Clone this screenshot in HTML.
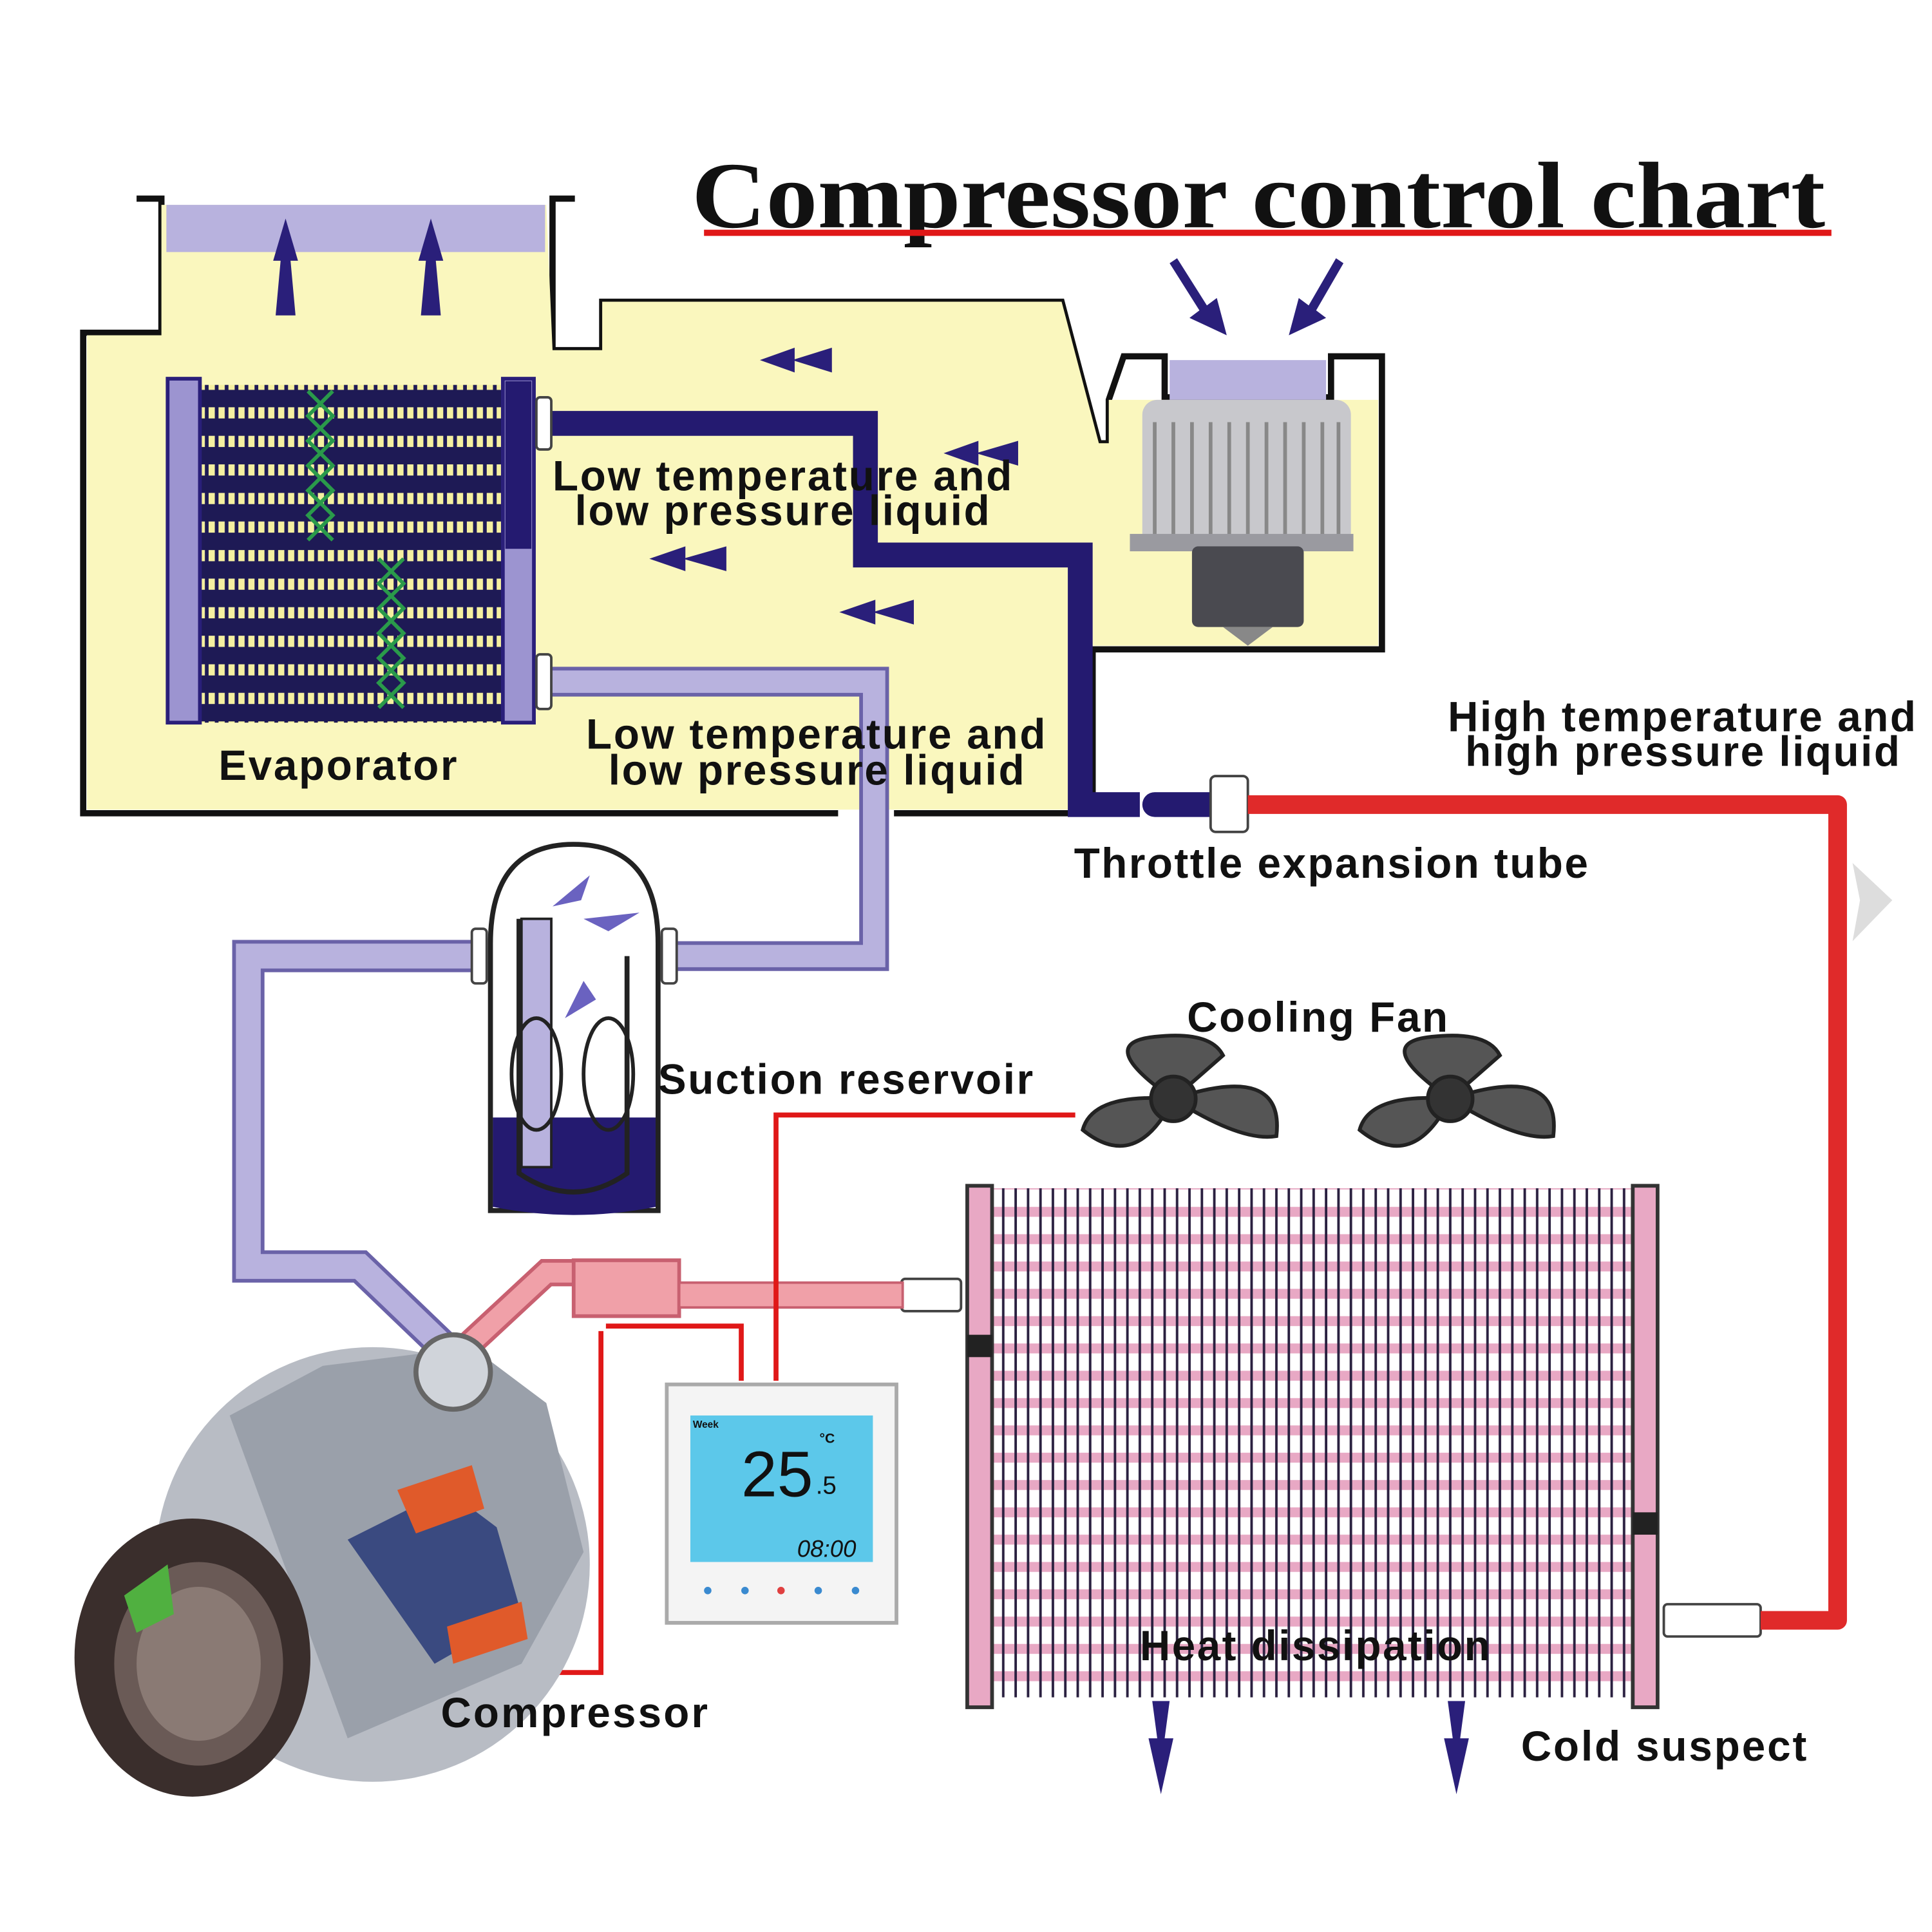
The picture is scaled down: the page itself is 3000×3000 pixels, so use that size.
<!DOCTYPE html>
<html><head><meta charset="utf-8"><style>
html,body{margin:0;padding:0;background:#fff;width:3000px;height:3000px;overflow:hidden}
svg{display:block}
text{font-family:"Liberation Sans",sans-serif;font-weight:bold;fill:#111}
</style></head><body>
<svg width="3000" height="3000" viewBox="0 0 1556 1556" xmlns="http://www.w3.org/2000/svg">
<defs>
<pattern id="fins" x="0" y="0" width="8" height="23" patternUnits="userSpaceOnUse">
<rect width="8" height="23" fill="#1e1a55"/><rect x="0" y="6" width="8" height="9" fill="#f5f0a0"/><rect x="5" y="0" width="3" height="23" fill="#1e1a55"/>
</pattern>
<pattern id="cond" x="0" y="0" width="10" height="22" patternUnits="userSpaceOnUse">
<rect width="10" height="22" fill="#fff"/><rect x="0" y="4" width="10" height="8" fill="#e8a8c4"/><rect x="7" y="0" width="2" height="22" fill="#2a2040"/>
</pattern>
</defs>
<rect width="1556" height="1556" fill="#fff"/>
<text x="557" y="183" textLength="913" lengthAdjust="spacingAndGlyphs" style="font-family:'Liberation Serif',serif" font-size="76">Compressor control chart</text>
<rect x="567" y="185" width="908" height="5" fill="#e01818"/>
<path d="M110,160 L130,160 L130,268 L67,268 L67,655 L675,655 M720,655 L862,655 L880,655 L880,523 L1113,523 L1113,287 L1072,287 L1072,320 L938,320 L938,287 L905,287 L893,322 L893,357 L885,357 L855,243 L485,243 L485,282 L445,282 L445,160 L463,160" fill="none" stroke="#111" stroke-width="5"/>
<path d="M130,165 L440,165 L445,282 L485,282 L485,243 L855,243 L885,357 L893,357 L893,322 L938,322 L1070,322 L1110,322 L1110,520 L878,520 L878,652 L70,652 L70,270 L130,270 Z" fill="#faf7be"/>
<rect x="134" y="165" width="305" height="38" fill="#b8b2de"/>
<rect x="942" y="290" width="126" height="32" fill="#b8b2de"/>
<g fill="#2a1f7a">
<polygon points="230,176 220,210 226,210 222,254 238,254 234,210 240,210"/>
<polygon points="347,176 337,210 343,210 339,254 355,254 351,210 357,210"/>
<polygon points="612,290 640,280 640,300"/><polygon points="638,290 670,280 670,300"/>
<polygon points="760,365 788,355 788,375"/><polygon points="786,365 820,355 820,375"/>
<polygon points="523,450 552,440 552,460"/><polygon points="550,450 585,440 585,460"/>
<polygon points="676,493 705,483 705,503"/><polygon points="703,493 736,483 736,503"/>
<polygon points="988,270 980,240 972,246 948,208 942,212 966,250 958,256"/>
<polygon points="1038,270 1046,240 1054,246 1076,208 1082,212 1060,250 1068,256"/>
<polygon points="935,1445 925,1400 932,1400 928,1370 942,1370 938,1400 945,1400"/>
<polygon points="1173,1445 1163,1400 1170,1400 1166,1370 1180,1370 1176,1400 1183,1400"/>
</g>
<rect x="920" y="322" width="168" height="120" rx="12" fill="#c8c8cc"/>
<g stroke="#888" stroke-width="3"><line x1="930" y1="340" x2="930" y2="432"/><line x1="945" y1="340" x2="945" y2="432"/><line x1="960" y1="340" x2="960" y2="432"/><line x1="975" y1="340" x2="975" y2="432"/><line x1="990" y1="340" x2="990" y2="432"/><line x1="1005" y1="340" x2="1005" y2="432"/><line x1="1020" y1="340" x2="1020" y2="432"/><line x1="1035" y1="340" x2="1035" y2="432"/><line x1="1050" y1="340" x2="1050" y2="432"/><line x1="1065" y1="340" x2="1065" y2="432"/><line x1="1078" y1="340" x2="1078" y2="432"/></g>
<rect x="910" y="430" width="180" height="14" fill="#9a9aa0"/>
<rect x="960" y="440" width="90" height="65" rx="5" fill="#4a4a50"/>
<polygon points="985,505 1025,505 1005,520" fill="#888"/>
<rect x="160" y="310" width="248" height="272" fill="url(#fins)"/>
<rect x="135" y="305" width="26" height="277" fill="#9c94d0" stroke="#2a1f7a" stroke-width="3"/>
<rect x="405" y="305" width="25" height="277" fill="#9c94d0" stroke="#2a1f7a" stroke-width="3"/>
<rect x="407" y="307" width="21" height="135" fill="#241a70"/>
<g stroke="#2a9a4a" stroke-width="3" fill="none"><path d="M248,315 l20,20 l-20,20 l20,20 l-20,20 l20,20 l-20,20"/><path d="M268,315 l-20,20 l20,20 l-20,20 l20,20 l-20,20 l20,20"/><path d="M305,450 l20,20 l-20,20 l20,20 l-20,20 l20,20 l-20,20"/><path d="M325,450 l-20,20 l20,20 l-20,20 l20,20 l-20,20 l20,20"/></g>
<path d="M440,341 L697,341 L697,447 L870,447 L870,648 L918,648" fill="none" stroke="#241a70" stroke-width="20"/>
<path d="M930,648 L975,648" stroke="#241a70" stroke-width="20" stroke-linecap="round"/>
<path d="M440,549 L704,549 L704,770 L540,770" fill="none" stroke="#6a62a8" stroke-width="24"/>
<path d="M440,549 L704,549 L704,770 L540,770" fill="none" stroke="#b8b2de" stroke-width="18"/>
<path d="M385,770 L200,770 L200,1020 L290,1020 L365,1092" fill="none" stroke="#6a62a8" stroke-width="26"/>
<path d="M385,770 L200,770 L200,1020 L290,1020 L365,1092" fill="none" stroke="#b8b2de" stroke-width="20"/>
<g fill="#fff" stroke="#444" stroke-width="2">
<rect x="432" y="320" width="12" height="42" rx="3"/><rect x="432" y="527" width="12" height="44" rx="3"/>
<rect x="380" y="748" width="12" height="44" rx="3"/><rect x="533" y="748" width="12" height="44" rx="3"/>
<rect x="975" y="625" width="30" height="45" rx="4"/>
<rect x="726" y="1030" width="48" height="26" rx="3"/>
<rect x="1340" y="1292" width="78" height="26" rx="3"/>
</g>
<path d="M1005,648 L1480,648 L1480,1305 L1418,1305" fill="none" stroke="#e02a2a" stroke-width="15" stroke-linejoin="round"/>
<polygon points="1492,695 1524,725 1492,758 1498,725" fill="#ddd"/>
<path d="M395,760 Q395,680 462,680 Q530,680 530,760 L530,975 L395,975 Z" fill="#fff" stroke="#222" stroke-width="4"/>
<path d="M397,900 L528,900 L528,972 Q462,985 397,972 Z" fill="#241a70"/>
<path d="M418,740 L418,945 Q462,975 505,945 L505,770" fill="none" stroke="#222" stroke-width="4"/>
<rect x="420" y="740" width="24" height="200" fill="#b8b2de" stroke="#222" stroke-width="2"/>
<ellipse cx="432" cy="865" rx="20" ry="45" fill="none" stroke="#222" stroke-width="3"/>
<ellipse cx="490" cy="865" rx="20" ry="45" fill="none" stroke="#222" stroke-width="3"/>
<g fill="#6a62c0"><polygon points="445,730 475,705 468,725"/><polygon points="470,740 515,735 490,750"/><polygon points="455,820 470,790 480,805"/></g>
<path d="M370,1090 L440,1025 L462,1025" fill="none" stroke="#c86070" stroke-width="22"/>
<path d="M370,1090 L440,1025 L462,1025" fill="none" stroke="#f0a0a8" stroke-width="16"/>
<rect x="462" y="1015" width="85" height="45" fill="#f0a0a8" stroke="#c86070" stroke-width="3"/>
<rect x="547" y="1033" width="180" height="20" fill="#f0a0a8" stroke="#c86070" stroke-width="2"/>
<g fill="none" stroke="#e01818" stroke-width="4">
<path d="M866,898 L625,898 L625,1112"/><path d="M488,1068 L597,1068 L597,1112"/><path d="M484,1072 L484,1347 L400,1347"/>
</g>
<rect x="800" y="957" width="515" height="410" fill="url(#cond)"/>
<rect x="779" y="955" width="20" height="420" fill="#e8a8c4" stroke="#333" stroke-width="3"/>
<rect x="1315" y="955" width="20" height="420" fill="#e8a8c4" stroke="#333" stroke-width="3"/>
<rect x="779" y="1075" width="20" height="18" fill="#222"/><rect x="1315" y="1218" width="20" height="18" fill="#222"/>
<g fill="#555" stroke="#222" stroke-width="3">
<path d="M945,885 Q880,840 930,835 Q975,830 985,850 Z"/><path d="M945,885 Q1035,855 1028,915 Q1000,920 945,885 Z"/><path d="M945,885 Q915,945 872,910 Q880,880 945,885 Z"/>
<circle cx="945" cy="885" r="18" fill="#333"/>
<path d="M1168,885 Q1103,840 1153,835 Q1198,830 1208,850 Z"/><path d="M1168,885 Q1258,855 1251,915 Q1223,920 1168,885 Z"/><path d="M1168,885 Q1138,945 1095,910 Q1103,880 1168,885 Z"/>
<circle cx="1168" cy="885" r="18" fill="#333"/>
</g>
<rect x="537" y="1115" width="185" height="192" fill="#f4f4f4" stroke="#aaa" stroke-width="3"/>
<rect x="556" y="1140" width="147" height="118" fill="#5cc8ea"/>
<text x="597" y="1205" font-size="52" style="font-weight:normal;fill:#111">25</text>
<text x="657" y="1203" font-size="20" style="font-weight:normal">.5</text>
<text x="660" y="1162" font-size="11">°C</text>
<text x="558" y="1150" font-size="8">Week</text>
<text x="642" y="1254" font-size="19" style="font-weight:normal;font-style:italic">08:00</text>
<g fill="#3a8ad0"><circle cx="570" cy="1281" r="3"/><circle cx="600" cy="1281" r="3"/><circle cx="659" cy="1281" r="3"/><circle cx="689" cy="1281" r="3"/></g><circle cx="629" cy="1281" r="3" fill="#e04040"/>
<circle cx="300" cy="1260" r="175" fill="#b8bcc4"/>
<polygon points="185,1140 260,1100 380,1085 440,1130 470,1250 420,1340 280,1400" fill="#9aa0aa"/>
<circle cx="365" cy="1105" r="30" fill="#d0d4da" stroke="#666" stroke-width="4"/>
<polygon points="280,1240 360,1200 400,1230 420,1300 350,1340" fill="#3a4a80"/>
<polygon points="320,1200 380,1180 390,1215 335,1235" fill="#e05a2a"/>
<polygon points="360,1310 420,1290 425,1320 365,1340" fill="#e05a2a"/>
<ellipse cx="155" cy="1335" rx="95" ry="112" fill="#3a2e2c"/>
<ellipse cx="160" cy="1340" rx="68" ry="82" fill="#6a5a56"/>
<ellipse cx="160" cy="1340" rx="50" ry="62" fill="#8a7a74"/>
<polygon points="100,1285 135,1260 140,1300 110,1315" fill="#50b040"/>
<g font-size="34" lengthAdjust="spacingAndGlyphs">
<text x="176" y="628" textLength="192">Evaporator</text>
<text x="445" y="395" textLength="370">Low temperature and</text>
<text x="463" y="423" textLength="334">low pressure liquid</text>
<text x="472" y="603" textLength="370">Low temperature and</text>
<text x="490" y="632" textLength="335">low pressure liquid</text>
<text x="1166" y="589" textLength="377">High temperature and</text>
<text x="1180" y="617" textLength="350">high pressure liquid</text>
<text x="865" y="707" textLength="414">Throttle expansion tube</text>
<text x="956" y="831" textLength="210">Cooling Fan</text>
<text x="530" y="881" textLength="302">Suction reservoir</text>
<text x="918" y="1337" textLength="282">Heat dissipation</text>
<text x="355" y="1391" textLength="215">Compressor</text>
<text x="1225" y="1418" textLength="230">Cold suspect</text>
</g>
</svg>
</body></html>
